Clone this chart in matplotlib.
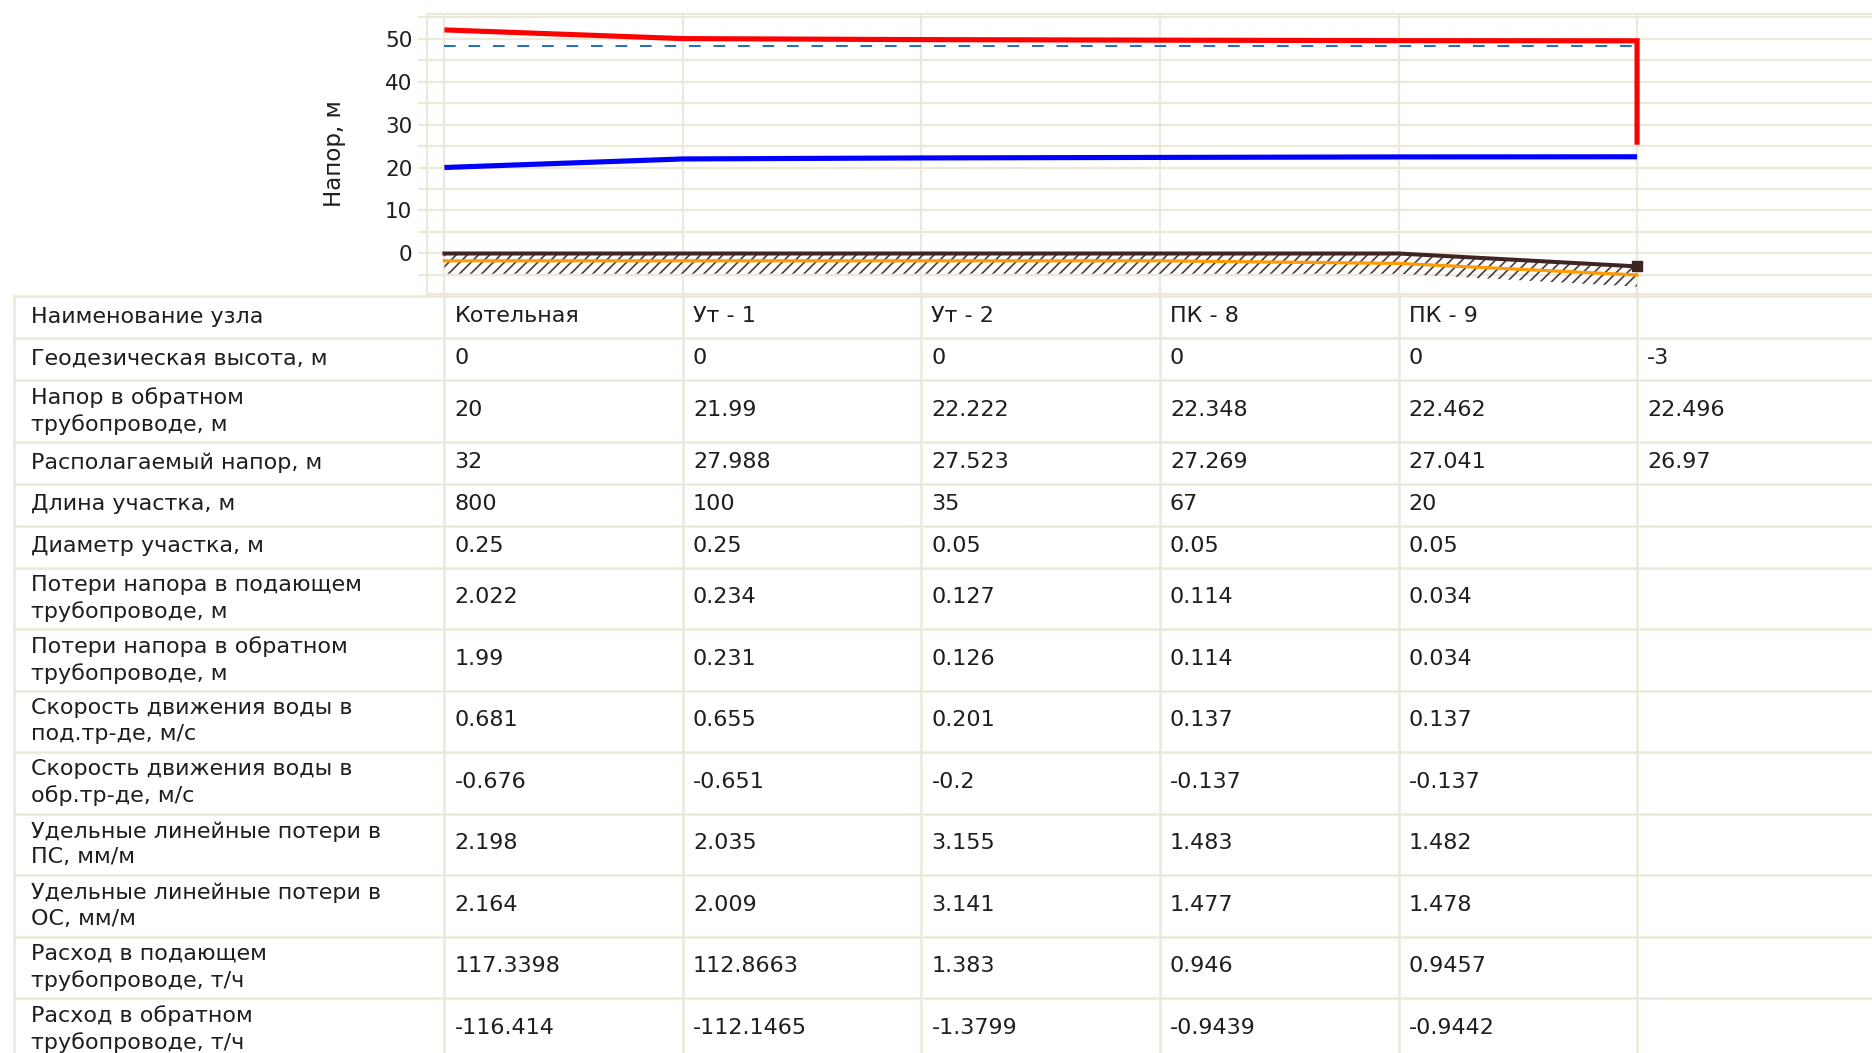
import matplotlib
matplotlib.use('Agg')
import matplotlib.pyplot as plt
import numpy as np

plt.rcParams['font.family'] = ['DejaVu Sans']
plt.rcParams['hatch.linewidth'] = 1.2

# ---------------- data ----------------
node_names = ['Котельная', 'Ут - 1', 'Ут - 2', 'ПК - 8', 'ПК - 9', '']
geo_height = [0, 0, 0, 0, 0, -3]
return_head = [20, 21.99, 22.222, 22.348, 22.462, 22.496]
available_head = [32, 27.988, 27.523, 27.269, 27.041, 26.97]
section_length = [800, 100, 35, 67, 20]
section_diameter = [0.25, 0.25, 0.05, 0.05, 0.05]
loss_supply = [2.022, 0.234, 0.127, 0.114, 0.034]
loss_return = [1.99, 0.231, 0.126, 0.114, 0.034]
speed_supply = [0.681, 0.655, 0.201, 0.137, 0.137]
speed_return = [-0.676, -0.651, -0.2, -0.137, -0.137]
spec_loss_supply = [2.198, 2.035, 3.155, 1.483, 1.482]
spec_loss_return = [2.164, 2.009, 3.141, 1.477, 1.478]
flow_supply = [117.3398, 112.8663, 1.383, 0.946, 0.9457]
flow_return = [-116.414, -112.1465, -1.3799, -0.9439, -0.9442]

static_head = 48.2          # dashed line
consumer_drop_to = 25.3     # end of the red vertical drop at the last node
pipe_level = [-1.7, -1.7, -1.7, -1.7, -2.3, -5.0]
soil_depth = 4.7

y_ticks = list(range(-5, 56, 5))
y_labels = ['' if (v % 10 or v < 0) else str(v) for v in y_ticks]

row_labels = [
    'Наименование узла',
    'Геодезическая высота, м',
    'Напор в обратном\nтрубопроводе, м',
    'Располагаемый напор, м',
    'Длина участка, м',
    'Диаметр участка, м',
    'Потери напора в подающем\nтрубопроводе, м',
    'Потери напора в обратном\nтрубопроводе, м',
    'Скорость движения воды в\nпод.тр-де, м/с',
    'Скорость движения воды в\nобр.тр-де, м/с',
    'Удельные линейные потери в\nПС, мм/м',
    'Удельные линейные потери в\nОС, мм/м',
    'Расход в подающем\nтрубопроводе, т/ч',
    'Расход в обратном\nтрубопроводе, т/ч',
]
row_values = [node_names, geo_height, return_head, available_head,
              section_length, section_diameter, loss_supply, loss_return,
              speed_supply, speed_return, spec_loss_supply, spec_loss_return,
              flow_supply, flow_return]

# ---------------- style ----------------
W, H = 1872, 1053
GRID = '#ECE9D9'
TXT = '#1E1E1E'
FS = 16

fig = plt.figure(figsize=(W / 100, H / 100), dpi=100)
fig.patch.set_facecolor('white')

# ---------------- chart ----------------
ax_l, ax_t, ax_b = 427, 14, 294
ax = fig.add_axes([ax_l / W, 1 - ax_b / H, (W - ax_l) / W, (ax_b - ax_t) / H])
ax.set_xlim(-0.073, 5.985)
ax.set_ylim(-9.42, 55.7)

x = np.arange(len(geo_height))
supply_head = [r + a for r, a in zip(return_head, available_head)]

ax.set_xticks(x)
ax.set_xticklabels([])
ax.set_yticks(y_ticks)
ax.set_yticklabels(y_labels)
ax.grid(True, color=GRID, lw=1.6, zorder=0)
ax.set_axisbelow(True)
ax.tick_params(axis='x', length=0)
ax.tick_params(axis='y', length=6.5, width=1.6, color=GRID, labelsize=15.5,
               labelcolor=TXT, pad=4)
for side in ['left', 'top']:
    ax.spines[side].set_color(GRID)
    ax.spines[side].set_linewidth(1.6)
ax.spines['right'].set_visible(False)
ax.spines['bottom'].set_color(GRID)
ax.spines['bottom'].set_linewidth(1.6)

ax.set_ylabel('Напор, м', fontsize=16.5, color=TXT)
ax.yaxis.set_label_coords(-0.056, 0.5)

# soil hatch
geo = np.array(geo_height, dtype=float)
ax.fill_between(x, geo, geo - soil_depth, facecolor='none',
                edgecolor='#4D3A3A', hatch='///', lw=0, zorder=1)
# pipe level
ax.plot(x, pipe_level, color='#FF9A00', lw=2.3, zorder=2)
# ground
ax.plot(x, geo, color='#3F2424', lw=2.9, marker='s', markevery=[len(x) - 1],
        ms=7.5, zorder=3, solid_joinstyle='miter')
# static head (dashed)
ax.plot([x[0], x[-1]], [static_head, static_head], color='#1F6BC4', lw=1.4,
        dashes=(6, 6.6), zorder=3)
# return head
ax.plot(x, return_head, color='#0000FF', lw=3.7, zorder=4,
        solid_capstyle='butt')
# supply head with drop at consumer
ax.plot(list(x) + [x[-1]], supply_head + [consumer_drop_to], color='#FF0000',
        lw=3.7, zorder=5, solid_capstyle='butt', solid_joinstyle='miter')

# ---------------- table ----------------
tab = fig.add_axes([0, 0, 1, 1], zorder=-1)
tab.set_xlim(0, W)
tab.set_ylim(H, 0)
tab.axis('off')
tab.patch.set_visible(False)

fig.canvas.draw()
col_x = [ax.transData.transform((xi, 0))[0] for xi in x]
table_left = 14
table_top = 296
single_h, double_h = 42, 61.5

y0 = table_top
bounds = [y0]
for lab in row_labels:
    y0 += double_h if '\n' in lab else single_h
    bounds.append(y0)

lw_tab = 1.8
for yb in bounds:
    tab.plot([table_left, W], [yb, yb], color=GRID, lw=lw_tab, clip_on=False)
for xc in [table_left] + col_x:
    tab.plot([xc, xc], [bounds[0], H + 10], color=GRID, lw=lw_tab, clip_on=False)

for i, (lab, vals) in enumerate(zip(row_labels, row_values)):
    yc = (bounds[i] + bounds[i + 1]) / 2
    tab.text(table_left + 17, yc, lab, ha='left', va='center', fontsize=FS,
             color=TXT, linespacing=1.36)
    for j, v in enumerate(vals):
        tab.text(col_x[j] + 10, yc - 1, str(v), ha='left', va='center',
                 fontsize=FS, color=TXT)

fig.savefig('out.png', dpi=100, facecolor='white')
